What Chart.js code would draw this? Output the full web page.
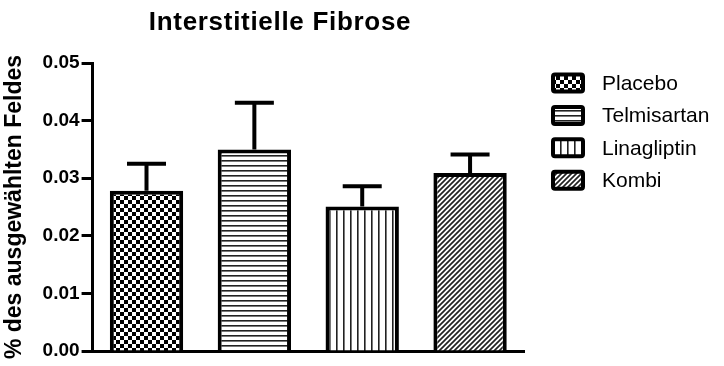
<!DOCTYPE html>
<html>
<head>
<meta charset="utf-8">
<script src="https://cdn.jsdelivr.net/npm/chart.js@4/dist/chart.umd.min.js"></script>
<style>
  html, body { margin: 0; padding: 0; background: #fff; }
  #wrap { width: 724px; height: 366px; }
</style>
</head>
<body>
<div id="wrap"><canvas id="c" width="724" height="366"></canvas></div>
<script>
// Groups, mean values and SEM of the interstitial fibrosis measurement
const groups = ['Placebo', 'Telmisartan', 'Linagliptin', 'Kombi'];
const meanValues = [0.0278, 0.0350, 0.0251, 0.0309];
const semValues = [0.0047, 0.0081, 0.0035, 0.0032];
const yTicks = [0.00, 0.01, 0.02, 0.03, 0.04, 0.05];
const chartTitle = 'Interstitielle Fibrose';
const yAxisTitle = '% des ausgewählten Feldes';

const FONT = '"Liberation Sans", Arial, Helvetica, sans-serif';
const canvas = document.getElementById('c');
const ctx = canvas.getContext('2d');

// Small pattern tiles used as bar fills
function makeTile(w, h, draw) {
  const t = document.createElement('canvas');
  t.width = w; t.height = h;
  const g = t.getContext('2d');
  g.fillStyle = '#fff';
  g.fillRect(0, 0, w, h);
  draw(g, w, h);
  return ctx.createPattern(t, 'repeat');
}
const fills = [
  // checkerboard
  makeTile(8, 8, g => { g.fillStyle = '#000'; g.fillRect(0, 0, 4, 4); g.fillRect(4, 4, 4, 4); }),
  // horizontal lines
  makeTile(4, 5, g => { g.fillStyle = '#222'; g.fillRect(0, 0, 4, 1.6); }),
  // vertical lines
  makeTile(7, 4, g => { g.fillStyle = '#222'; g.fillRect(0, 0, 1.6, 4); }),
  // diagonal hatch
  makeTile(5, 5, (g, w, h) => {
    g.strokeStyle = '#222'; g.lineWidth = 1.7;
    g.beginPath();
    g.moveTo(0, h); g.lineTo(w, 0);
    g.moveTo(-1, 1); g.lineTo(1, -1);
    g.moveTo(w - 1, h + 1); g.lineTo(w + 1, h - 1);
    g.stroke();
  })
];

// one dataset per group so each gets its own fill and legend entry
const datasets = groups.map((name, i) => ({
  label: name,
  data: groups.map((_, j) => (j === i ? meanValues[i] : null)),
  sem: semValues[i],
  backgroundColor: fills[i],
  borderColor: '#000',
  borderWidth: 4,
  borderSkipped: 'start',
  grouped: false,
  categoryPercentage: 0.68,
  barPercentage: 1.0
}));

// upward error bars (mean + SEM) with caps
const errorBars = {
  id: 'errorBars',
  afterDatasetsDraw(chart) {
    const y = chart.scales.y;
    const c = chart.ctx;
    c.save();
    c.strokeStyle = '#000';
    c.lineWidth = 4;
    c.lineCap = 'butt';
    chart.data.datasets.forEach((ds, i) => {
      const bar = chart.getDatasetMeta(i).data[i];
      if (!bar) return;
      const top = y.getPixelForValue(ds.data[i] + ds.sem);
      const half = 19.5;
      c.beginPath();
      c.moveTo(bar.x, bar.y);
      c.lineTo(bar.x, top);
      c.moveTo(bar.x - half, top);
      c.lineTo(bar.x + half, top);
      c.stroke();
    });
    c.restore();
  }
};

// heading and side legend
const heading = {
  id: 'heading',
  afterDraw(chart) {
    const c = chart.ctx;
    const area = chart.chartArea;
    c.save();
    c.fillStyle = '#000';
    c.font = 'bold 26px ' + FONT;
    if ('letterSpacing' in c) c.letterSpacing = '0.7px';
    c.textAlign = 'center';
    c.textBaseline = 'alphabetic';
    c.fillText(chartTitle, 280, 30);
    if ('letterSpacing' in c) c.letterSpacing = '0px';

    const bx = area.right + 27, bw = 34, bh = 21, pitch = 32.4, firstY = 83;
    c.font = '21px ' + FONT;
    c.textAlign = 'left';
    c.textBaseline = 'middle';
    chart.data.datasets.forEach((ds, i) => {
      const cy = firstY + i * pitch;
      c.beginPath();
      c.roundRect(bx + 2, cy - bh / 2 + 2, bw - 4, bh - 4, 2);
      c.fillStyle = ds.backgroundColor;
      c.fill();
      c.lineWidth = 4;
      c.strokeStyle = '#000';
      c.stroke();
      c.fillStyle = '#000';
      c.fillText(ds.label, bx + 51, cy + 1);
    });
    c.restore();
  }
};

new Chart(canvas, {
  type: 'bar',
  data: { labels: groups, datasets },
  options: {
    responsive: false,
    animation: false,
    devicePixelRatio: 1,
    layout: { padding: { left: 0, top: 63, right: 200, bottom: 7 } },
    plugins: {
      legend: { display: false },
      title: { display: false },
      tooltip: { enabled: false }
    },
    scales: {
      x: {
        grid: { display: false },
        ticks: { display: false },
        border: { display: true, color: '#000', width: 3 }
      },
      y: {
        min: 0,
        max: 0.05,
        afterBuildTicks(scale) { scale.ticks = yTicks.map(v => ({ value: v })); },
        grid: {
          drawOnChartArea: false,
          drawTicks: true,
          tickLength: 11,
          tickWidth: 3,
          tickColor: '#000'
        },
        border: { display: true, color: '#000', width: 3 },
        ticks: {
          color: '#000',
          padding: 2,
          font: { family: FONT, size: 19, weight: 'bold' },
          callback: v => Number(v).toFixed(2)
        },
        title: {
          display: true,
          text: yAxisTitle,
          color: '#000',
          font: { family: FONT, size: 23, weight: 'bold' },
          padding: { top: 1, bottom: 12 }
        }
      }
    }
  },
  plugins: [errorBars, heading]
});
</script>
</body>
</html>
